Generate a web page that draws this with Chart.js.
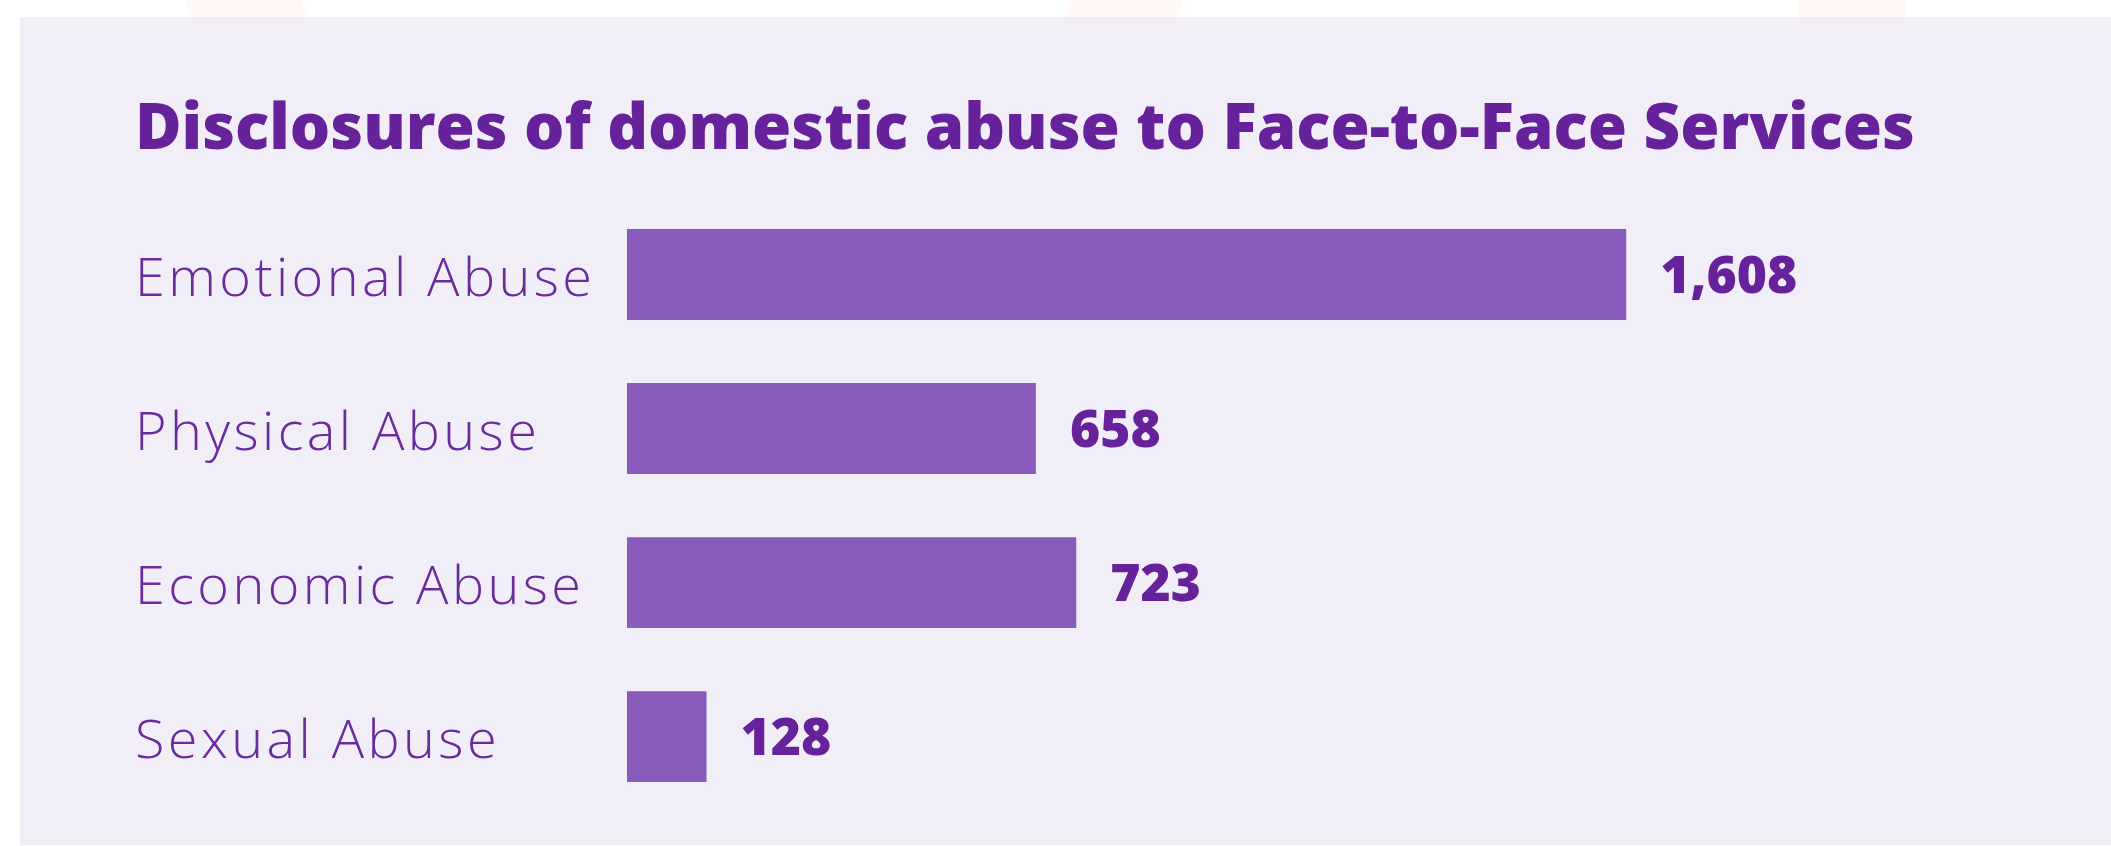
<!DOCTYPE html>
<html>
<head>
<meta charset="utf-8">
<script src="https://cdn.jsdelivr.net/npm/chart.js@4.4.1/dist/chart.umd.min.js"></script>
<style>
  html, body { margin: 0; padding: 0; background: #ffffff; width: 2111px; height: 846px; overflow: hidden; }
  .deco { position: absolute; top: 0; height: 17px; background: #fff8f7; }
  #panel { position: absolute; left: 20px; top: 17px; width: 2091px; height: 828px; background: #f1eef8; }
  #wrap { position: absolute; left: 0; top: 0; width: 2111px; height: 846px; }
</style>
</head>
<body>
<div class="deco" style="left:184px;width:123px;clip-path:polygon(0 0,94% 0,100% 100%,6% 100%);"></div>
<div class="deco" style="left:1063px;width:119px;clip-path:polygon(6% 0,100% 0,97% 100%,0 100%);"></div>
<div class="deco" style="left:1798px;width:107px;"></div>
<div id="panel"></div>
<div id="wrap"><canvas id="c" width="2111" height="846"></canvas></div>
<script>
const titleText = 'Disclosures of domestic abuse to Face-to-Face Services';
const categories = ['Emotional Abuse', 'Physical Abuse', 'Economic Abuse', 'Sexual Abuse'];
const disclosures = [1608, 658, 723, 128];
const xMax = 2290;

const TITLE_COLOR = '#65229a';
const LABEL_COLOR = '#6a2b9d';
const BAR_COLOR = '#875cba';

const TITLE_FAMILY = '"Open Sans", sans-serif';
const LABEL_FAMILY = '"Open Sans", sans-serif';
const VALUE_FAMILY = '"Open Sans", sans-serif';

function measure(text, family, weight, size) {
  const ctx = document.createElement('canvas').getContext('2d');
  ctx.font = weight + ' ' + size + 'px ' + family;
  return ctx.measureText(text).width;
}
function fitSize(text, family, weight, targetWidth) {
  return 100 * targetWidth / measure(text, family, weight, 100);
}

const titleSize = Math.min(64, fitSize(titleText, TITLE_FAMILY, 800, 1780));
const labelSize = 54;
const labelSpacing = Math.max(0, (457 - measure('Emotional Abuse', LABEL_FAMILY, 300, labelSize)) / 14);
const valueSize = Math.min(58, fitSize('1,608', VALUE_FAMILY, 800, 137));

const valueLabels = {
  id: 'valueLabels',
  afterDatasetsDraw(chart) {
    const ctx = chart.ctx;
    const meta = chart.getDatasetMeta(0);
    ctx.save();
    ctx.font = '800 ' + valueSize + 'px ' + VALUE_FAMILY;
    ctx.fillStyle = TITLE_COLOR;
    ctx.textAlign = 'left';
    ctx.textBaseline = 'middle';
    meta.data.forEach((bar, i) => {
      const v = chart.data.datasets[0].data[i];
      ctx.fillText(v.toLocaleString('en-US'), bar.x + 34, bar.y + 4);
    });
    ctx.restore();
    // y tick labels are drawn after this hook (ticks z = 1): give them wider spacing
    ctx.letterSpacing = labelSpacing.toFixed(2) + 'px';
  },
  afterDraw(chart) {
    chart.ctx.letterSpacing = '0px';
  }
};

const S = titleSize;
const padTop = 131 - 0.6 * S;
const padBottom = 197.5 - padTop - 1.2 * S;

new Chart(document.getElementById('c'), {
  type: 'bar',
  data: {
    labels: categories,
    datasets: [{
      data: disclosures,
      backgroundColor: BAR_COLOR,
      borderWidth: 0,
      barPercentage: 0.59,
      categoryPercentage: 1.0
    }]
  },
  options: {
    indexAxis: 'y',
    responsive: false,
    animation: false,
    layout: { padding: { left: 135, right: 61, top: 0, bottom: 32 } },
    plugins: {
      legend: { display: false },
      tooltip: { enabled: false },
      title: {
        display: true,
        text: titleText,
        align: 'start',
        color: TITLE_COLOR,
        font: { family: TITLE_FAMILY, size: S, weight: 800, lineHeight: 1.2 },
        padding: { top: padTop, bottom: padBottom }
      }
    },
    scales: {
      x: { display: false, min: 0, max: xMax, grid: { display: false } },
      y: {
        grid: { display: false, drawTicks: false },
        border: { display: false },
        ticks: {
          z: 1,
          color: LABEL_COLOR,
          crossAlign: 'far',
          padding: 0,
          labelOffset: 6,
          font: { family: LABEL_FAMILY, size: labelSize, weight: 300 }
        },
        afterFit(scale) { scale.width = 627 - 135; }
      }
    }
  },
  plugins: [valueLabels]
});
</script>
</body>
</html>
